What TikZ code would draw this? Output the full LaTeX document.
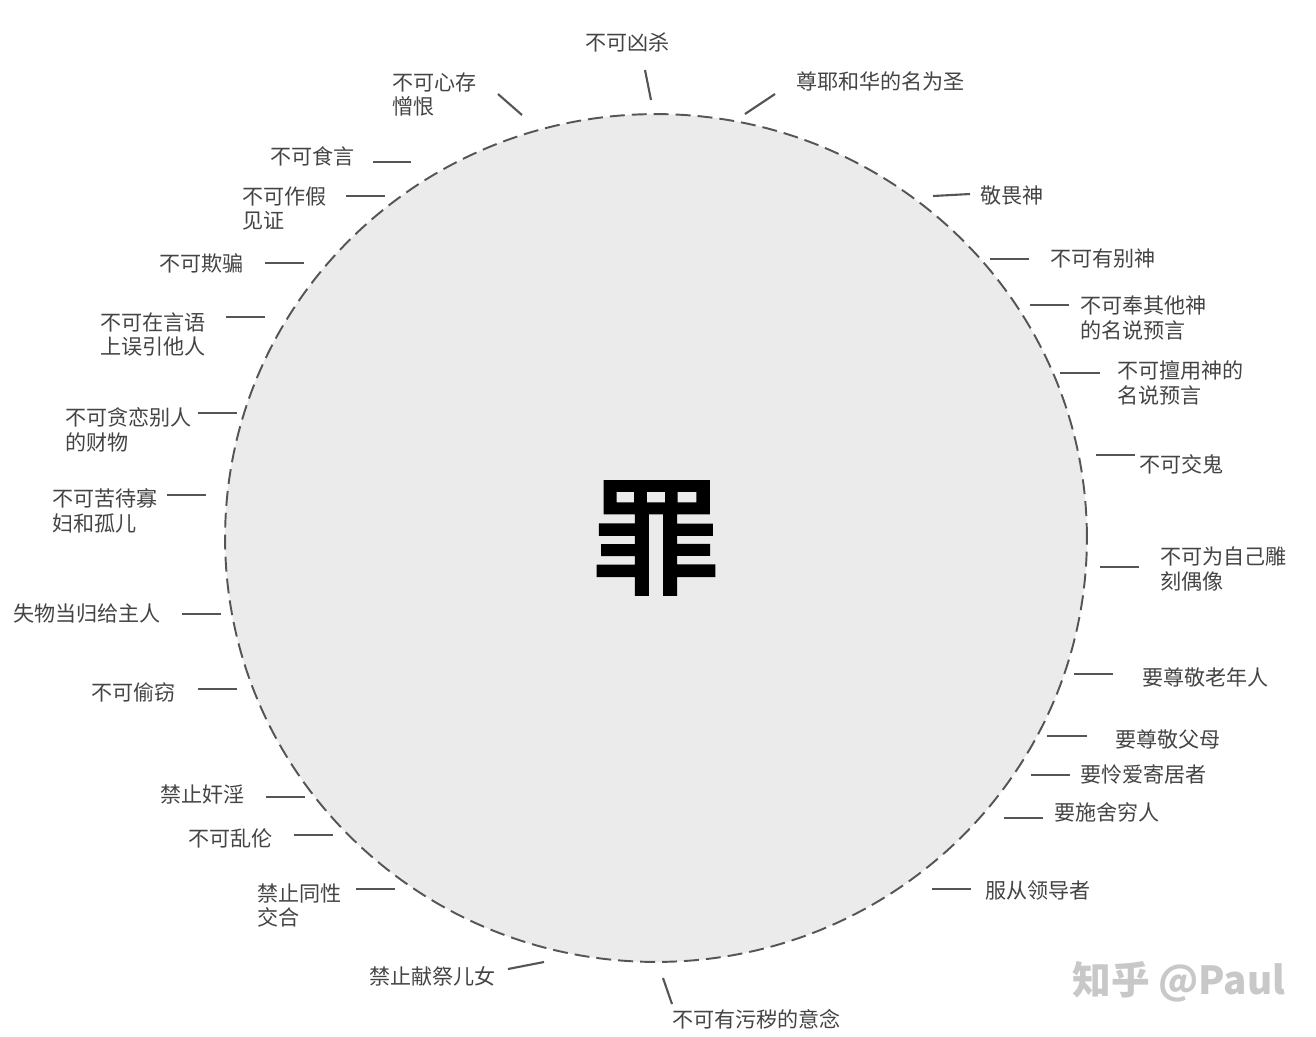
\documentclass[tikz,border=0pt]{standalone}
\usepackage{fontspec}
\setmainfont{Noto Sans CJK SC}
\newfontfamily\sinfont{Noto Sans CJK SC}[FakeBold=3]
\usetikzlibrary{shapes.geometric}
\definecolor{inkgray}{HTML}{444444}
\definecolor{linegray}{HTML}{555555}
\definecolor{discfill}{HTML}{EBEBEB}
\definecolor{markgray}{HTML}{C8C8C8}

\begin{document}
\begin{tikzpicture}[
    x=0.02cm, y=-0.02cm,
    disc/.style={ellipse, draw=linegray, line width=1.1pt, dash pattern=on 8.5pt off 4pt,
        fill=discfill, minimum width=17.24cm, minimum height=16.96cm, inner sep=0pt,
        font=\fontsize{72}{72}\sinfont, text=black},
    law/.style={anchor=west, inner sep=0pt, align=left, text=inkgray,
        font=\fontsize{12}{14.2}\selectfont},
    pointer/.style={draw=linegray, line width=1.2pt},
    watermark/.style={anchor=west, inner sep=0pt, text=markgray,
        font=\fontsize{22}{22}\selectfont\bfseries}
]
\useasboundingbox (0,0) rectangle (1316,1036);

\node (sin) [disc] at (656,538) {罪};

% left half
\node (kill) [law] at (585,42) {不可凶杀};
\node (hate) [law] at (392,94.5) {不可心存\\憎恨};
\node (word) [law] at (270,156) {不可食言};
\node (witness) [law] at (242,208.5) {不可作假\\见证};
\node (deceive) [law] at (159,263) {不可欺骗};
\node (mislead) [law] at (100,334.5) {不可在言语\\上误引他人};
\node (covet) [law] at (65,429.5) {不可贪恋别人\\的财物};
\node (widow) [law] at (52,510.5) {不可苦待寡\\妇和孤儿};
\node (lost) [law] at (13,614) {失物当归给主人};
\node (steal) [law] at (91,692) {不可偷窃};
\node (adultery) [law] at (160,794) {禁止奸淫};
\node (incest) [law] at (188,838) {不可乱伦};
\node (sodomy) [law] at (257,905.5) {禁止同性\\交合};
\node (offer) [law] at (369,976) {禁止献祭儿女};
\node (unclean) [law] at (672,1019) {不可有污秽的意念};

% right half
\node (holy) [law] at (796,81) {尊耶和华的名为圣};
\node (fear) [law] at (980,195) {敬畏神};
\node (othergod) [law] at (1050,259) {不可有别神};
\node (prophesy) [law] at (1080,317.5) {不可奉其他神\\的名说预言};
\node (misuse) [law] at (1117,382.5) {不可擅用神的\\名说预言};
\node (medium) [law] at (1139,464) {不可交鬼};
\node (idol) [law] at (1160,568.5) {不可为自己雕\\刻偶像};
\node (elder) [law] at (1142,677) {要尊敬老年人};
\node (parent) [law] at (1115,739) {要尊敬父母};
\node (stranger) [law] at (1080,774) {要怜爱寄居者};
\node (poor) [law] at (1054,812) {要施舍穷人};
\node (leader) [law] at (985,891) {服从领导者};

\node (zhihu) [watermark] at (1072,982) {知乎 @Paul};

% pointer ends
\coordinate (kill-a) at (645,70);      \coordinate (kill-b) at (651,100);
\coordinate (hate-a) at (498,94);      \coordinate (hate-b) at (522,115);
\coordinate (word-a) at (373,162);     \coordinate (word-b) at (411,162);
\coordinate (witness-a) at (346,196);  \coordinate (witness-b) at (385,196);
\coordinate (deceive-a) at (265,263);  \coordinate (deceive-b) at (304,263);
\coordinate (mislead-a) at (226,317);  \coordinate (mislead-b) at (265,317);
\coordinate (covet-a) at (198,413);    \coordinate (covet-b) at (237,413);
\coordinate (widow-a) at (167,495);    \coordinate (widow-b) at (206,495);
\coordinate (lost-a) at (182,614);     \coordinate (lost-b) at (221,614);
\coordinate (steal-a) at (198,689);    \coordinate (steal-b) at (237,689);
\coordinate (adultery-a) at (266,797); \coordinate (adultery-b) at (305,797);
\coordinate (incest-a) at (294,835);   \coordinate (incest-b) at (333,835);
\coordinate (sodomy-a) at (356,889);   \coordinate (sodomy-b) at (395,889);
\coordinate (offer-a) at (508,969);    \coordinate (offer-b) at (544,962);
\coordinate (unclean-a) at (672,1004); \coordinate (unclean-b) at (663,978);
\coordinate (holy-a) at (775,94);      \coordinate (holy-b) at (745,114);
\coordinate (fear-a) at (970,194);     \coordinate (fear-b) at (933,196);
\coordinate (othergod-a) at (1029,259); \coordinate (othergod-b) at (990,259);
\coordinate (prophesy-a) at (1069,305); \coordinate (prophesy-b) at (1030,305);
\coordinate (misuse-a) at (1100,373);  \coordinate (misuse-b) at (1060,373);
\coordinate (medium-a) at (1135,455);  \coordinate (medium-b) at (1096,455);
\coordinate (idol-a) at (1139,567);    \coordinate (idol-b) at (1100,567);
\coordinate (elder-a) at (1113,674);   \coordinate (elder-b) at (1074,674);
\coordinate (parent-a) at (1087,736);  \coordinate (parent-b) at (1047,736);
\coordinate (stranger-a) at (1070,775); \coordinate (stranger-b) at (1031,775);
\coordinate (poor-a) at (1043,818);    \coordinate (poor-b) at (1004,818);
\coordinate (leader-a) at (971,889);   \coordinate (leader-b) at (932,889);

\draw [pointer] (kill-a) -- (kill-b);
\draw [pointer] (hate-a) -- (hate-b);
\draw [pointer] (word-a) -- (word-b);
\draw [pointer] (witness-a) -- (witness-b);
\draw [pointer] (deceive-a) -- (deceive-b);
\draw [pointer] (mislead-a) -- (mislead-b);
\draw [pointer] (covet-a) -- (covet-b);
\draw [pointer] (widow-a) -- (widow-b);
\draw [pointer] (lost-a) -- (lost-b);
\draw [pointer] (steal-a) -- (steal-b);
\draw [pointer] (adultery-a) -- (adultery-b);
\draw [pointer] (incest-a) -- (incest-b);
\draw [pointer] (sodomy-a) -- (sodomy-b);
\draw [pointer] (offer-a) -- (offer-b);
\draw [pointer] (unclean-a) -- (unclean-b);
\draw [pointer] (holy-a) -- (holy-b);
\draw [pointer] (fear-a) -- (fear-b);
\draw [pointer] (othergod-a) -- (othergod-b);
\draw [pointer] (prophesy-a) -- (prophesy-b);
\draw [pointer] (misuse-a) -- (misuse-b);
\draw [pointer] (medium-a) -- (medium-b);
\draw [pointer] (idol-a) -- (idol-b);
\draw [pointer] (elder-a) -- (elder-b);
\draw [pointer] (parent-a) -- (parent-b);
\draw [pointer] (stranger-a) -- (stranger-b);
\draw [pointer] (poor-a) -- (poor-b);
\draw [pointer] (leader-a) -- (leader-b);
\end{tikzpicture}
\end{document}
